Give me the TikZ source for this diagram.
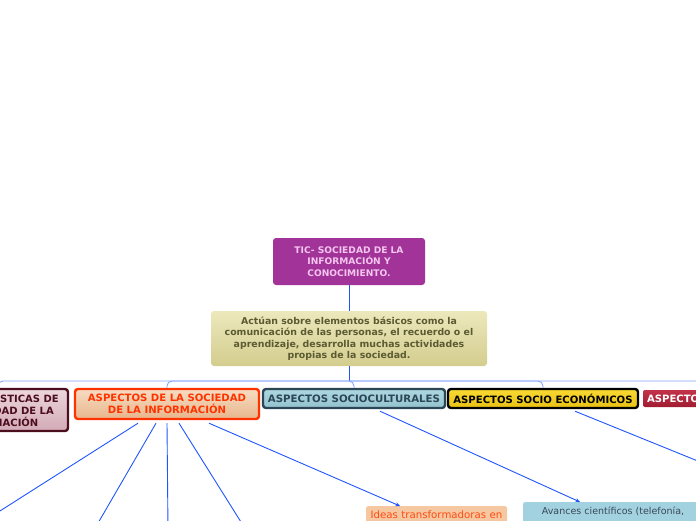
\documentclass[tikz,border=0pt]{standalone}
\usepackage{fontspec}
\setmainfont{DejaVu Sans}
\usetikzlibrary{arrows.meta,shadings}
\definecolor{titlefill}{HTML}{A23399}
\definecolor{titletext}{HTML}{F4C6EE}
\definecolor{desctop}{HTML}{ECE8BC}
\definecolor{descbot}{HTML}{D3CD8E}
\definecolor{desctext}{HTML}{5C5A32}
\definecolor{leftborder}{HTML}{4C0E1E}
\definecolor{lefttop}{HTML}{ECD6DC}
\definecolor{leftbot}{HTML}{D2AAB6}
\definecolor{aspborder}{HTML}{FF3300}
\definecolor{asptop}{HTML}{F6DCC2}
\definecolor{aspbot}{HTML}{E8B68C}
\definecolor{socborder}{HTML}{2C4656}
\definecolor{soctop}{HTML}{ADD7E0}
\definecolor{socbot}{HTML}{92C2CE}
\definecolor{ecotop}{HTML}{F9DA34}
\definecolor{ecobot}{HTML}{E8C012}
\definecolor{poltop}{HTML}{C2334A}
\definecolor{polbot}{HTML}{A01C30}
\definecolor{ideasfill}{HTML}{F6C8A2}
\definecolor{ideastext}{HTML}{FF4A12}
\definecolor{avfill}{HTML}{A2D2E0}
\definecolor{avtext}{HTML}{3A4858}
\definecolor{barblue}{HTML}{86A4FF}
\definecolor{linkblue}{HTML}{1F55FF}
\tikzset{
  box/.style={rounded corners=3pt, align=center, inner sep=0pt, font=\bfseries},
  bar/.style={draw=barblue, line width=0.9pt, rounded corners=5pt},
  link/.style={draw=linkblue, line width=0.9pt},
  arr/.style={link, -{Stealth[length=4.5pt,width=4pt]}}
}
\begin{document}
\begin{tikzpicture}[x=1pt,y=-1pt]
\useasboundingbox (0,0) rectangle (696,520);

\node[box, fill=titlefill, text=titletext, minimum width=152pt, minimum height=47pt,
  font=\bfseries\fontsize{9.1}{11.5}\selectfont] (title) at (349,261.5)
  {TIC- SOCIEDAD DE LA\\INFORMACIÓN Y\\CONOCIMIENTO.};

\node[box, top color=desctop, bottom color=descbot, text=desctext, minimum width=276pt, minimum height=55pt,
  font=\bfseries\fontsize{9.4}{11.5}\selectfont] (desc) at (349,338.5)
  {Actúan sobre elementos básicos como la\\comunicación de las personas, el recuerdo o el\\aprendizaje, desarrolla muchas actividades\\propias de la sociedad.};

\node[box, draw=leftborder, line width=2.4pt, top color=lefttop, bottom color=leftbot, text=leftborder,
  minimum width=140pt, minimum height=42pt, font=\bfseries\fontsize{10}{12}\selectfont] (carac) at (-2,410)
  {CARACTERÍSTICAS DE\\LA SOCIEDAD DE LA\\INFORMACIÓN};

\node[box, draw=aspborder, line width=2.4pt, top color=asptop, bottom color=aspbot, text=aspborder,
  minimum width=184pt, minimum height=30pt, font=\bfseries\fontsize{10.1}{12}\selectfont] (asp) at (167,404)
  {ASPECTOS DE LA SOCIEDAD\\DE LA INFORMACIÓN};

\node[box, draw=socborder, line width=2.4pt, top color=soctop, bottom color=socbot, text=socborder,
  minimum width=182pt, minimum height=19pt, font=\bfseries\fontsize{10.2}{12}\selectfont] (soc) at (354,398.5)
  {ASPECTOS SOCIOCULTURALES};

\node[box, draw=black, line width=2.4pt, top color=ecotop, bottom color=ecobot, text=black,
  minimum width=190pt, minimum height=19pt, font=\bfseries\fontsize{10.1}{12}\selectfont] (eco) at (543,398.5)
  {ASPECTOS SOCIO ECONÓMICOS};

\node[box, top color=poltop, bottom color=polbot, text=white, rounded corners=2pt,
  minimum width=120pt, minimum height=17pt, text width=112pt, align=left,
  font=\bfseries\fontsize{10.1}{12}\selectfont] (pol) at (703,398.5)
  {ASPECTOS};

\node[fill=ideasfill, text=ideastext, rounded corners=2pt, anchor=north, text width=133pt, align=center,
  inner xsep=4pt, inner ysep=5pt, font=\fontsize{10.2}{12}\selectfont] (ideas) at (436.5,506)
  {Ideas transformadoras en\\\strut};

\node[fill=avfill, text=avtext, rounded corners=2pt, anchor=north, text width=172pt, align=center,
  inner xsep=4pt, inner ysep=5pt, font=\fontsize{9.5}{12}\selectfont] (av) at (613,502)
  {Avances científicos (telefonía,\\\strut};

% trunk
\coordinate (hub) at (349,381);
\draw[link] (title.south) -- (desc.north);
\draw[link] (desc.south) -- (hub);
\draw[bar] (hub) -| (carac.north);
\draw[bar] (hub) -| (asp.north);
\draw[bar] (hub) -| (soc.north);
\draw[bar] (hub) -| (eco.north);
\draw[bar] (hub) -| (pol.north);

% branches
\coordinate (e1) at (-30,530);
\coordinate (e2) at (94,530);
\coordinate (e3) at (168,530);
\coordinate (e4) at (246,530);
\coordinate (e5) at (720,470);
\coordinate (ti) at (400,506);
\coordinate (ta) at (580,502);
\draw[link] ([xshift=-29pt,yshift=-3pt]asp.south) -- (e1);
\draw[link] ([xshift=-11pt,yshift=-3pt]asp.south) -- (e2);
\draw[link] ([xshift=0pt,yshift=-3pt]asp.south) -- (e3);
\draw[link] ([xshift=12pt,yshift=-3pt]asp.south) -- (e4);
\draw[arr] ([xshift=42pt,yshift=-3pt]asp.south) -- (ti);
\draw[arr] ([xshift=26pt,yshift=-2pt]soc.south) -- (ta);
\draw[link] ([xshift=32pt,yshift=-2pt]eco.south) -- (e5);
\end{tikzpicture}
\end{document}
